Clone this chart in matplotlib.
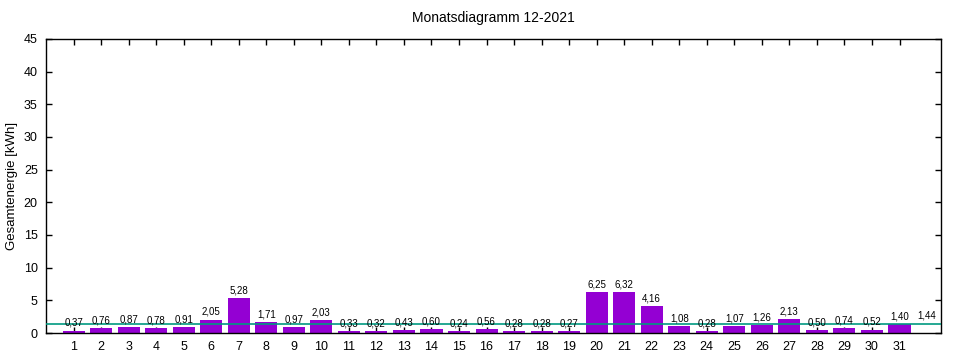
import numpy as np
import matplotlib
matplotlib.use("Agg")
import matplotlib.pyplot as plt

# Tageswerte Dezember 2021
tage = np.arange(1, 32)
energie = [0.37, 0.76, 0.87, 0.78, 0.91, 2.05, 5.28, 1.71, 0.97, 2.03,
           0.33, 0.32, 0.43, 0.60, 0.24, 0.56, 0.28, 0.28, 0.27, 6.25,
           6.32, 4.16, 1.08, 0.28, 1.07, 1.26, 2.13, 0.50, 0.74, 0.52, 1.40]
mittel = 1.44
titel = "Monatsdiagramm 12-2021"
ylabel = "Gesamtenergie [kWh]"

plt.rcParams['font.family'] = ['Liberation Sans', 'DejaVu Sans']

fig = plt.figure(figsize=(9.6, 3.6), dpi=100)
ax = fig.add_axes([0.048, 0.075, 0.932, 0.817])

ax.bar(tage, energie, width=0.8, color='#9400d3', zorder=2)
ax.axhline(mittel, color='#009980', lw=1.2, zorder=3)

def fmt(v):
    return ("%.2f" % v).replace('.', ',')

for x, v in zip(tage, energie):
    ax.text(x, v + 0.4, fmt(v), ha='center', va='bottom', fontsize=7, zorder=4)
ax.text(32, mittel + 0.4, fmt(mittel), ha='center', va='bottom', fontsize=7)

ax.set_xlim(0, 32.5)
ax.set_ylim(0, 45)
ax.set_xticks(tage)
ax.set_yticks(np.arange(0, 46, 5))
ax.tick_params(direction='in', length=4, width=1, labelsize=9,
               top=True, right=True, pad=6)
for s in ax.spines.values():
    s.set_linewidth(1)

ax.set_ylabel(ylabel, fontsize=9.5, labelpad=4)
ax.set_title(titel, fontsize=10, pad=12)

fig.savefig("out.png", dpi=100)
